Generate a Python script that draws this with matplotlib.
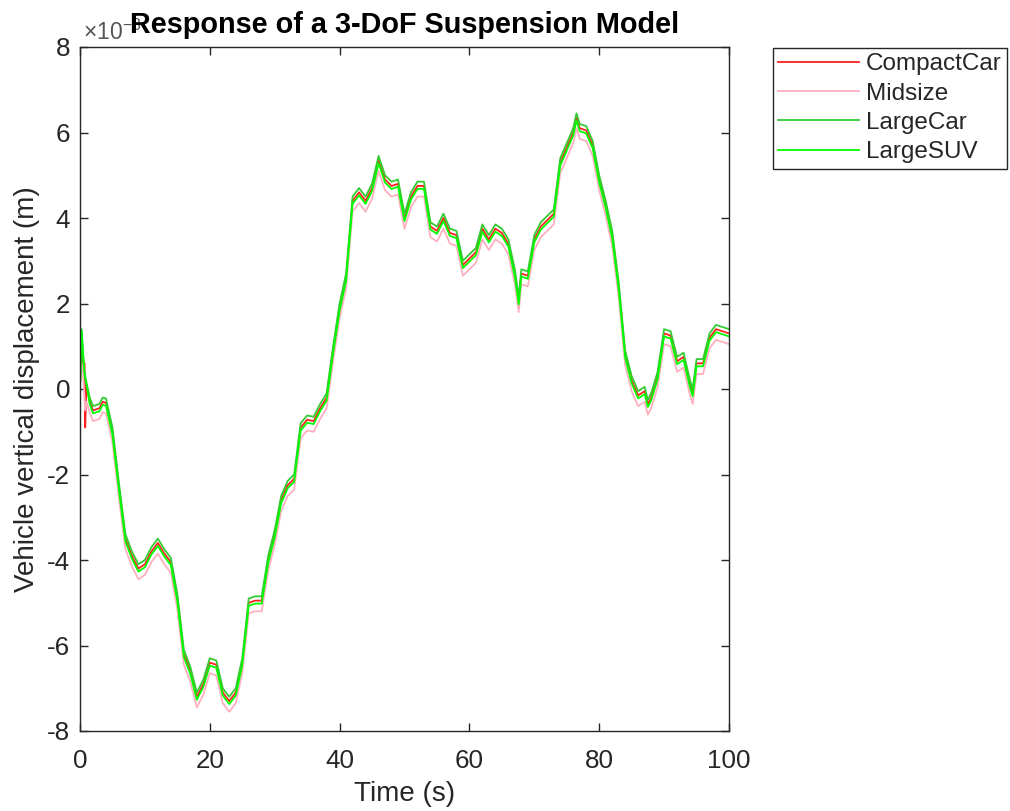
import matplotlib
matplotlib.use("Agg")
import matplotlib.pyplot as plt
from matplotlib.ticker import FuncFormatter

plt.rcParams['font.family'] = ['Liberation Sans', 'DejaVu Sans']
plt.rcParams['mathtext.fontset'] = 'custom'
plt.rcParams['mathtext.rm'] = 'Liberation Sans'
plt.rcParams['mathtext.it'] = 'Liberation Sans'
plt.rcParams['axes.unicode_minus'] = False

# Time (s)
time = [0, 0.25, 0.5, 0.7, 0.8, 1, 1.5,
        2, 3, 3.5, 4, 5, 6, 7, 8, 9, 10, 11, 12, 13, 14, 15, 16, 17, 18, 19, 20,
        21, 22, 23, 24, 25, 26, 27, 28, 29, 30, 31, 32, 33, 34, 35, 36, 37, 38, 39, 40,
        41, 42, 43, 44, 45, 46, 47, 48, 49, 50, 51, 52, 53, 54, 55, 56, 57, 58, 59, 60,
        61, 62, 63, 64, 65, 66, 67, 67.6, 68, 69, 70, 71, 72, 73, 74, 75, 76, 76.5, 77,
        78, 79, 80, 81, 82, 83, 84, 85, 86, 87, 87.5, 88, 89, 90, 91, 92, 93, 94, 94.4,
        95, 96, 97, 98, 99, 100]

# Vertical displacement, units of 1e-3 m
compact_car = [0.0, 1.3, 0.5, 0.6, -0.9, 0.1, -0.3,
               -0.5, -0.45, -0.3, -0.32, -1.0, -2.3, -3.5, -3.9, -4.2, -4.1, -3.8, -3.6, -3.85, -4.05, -4.9, -6.2, -6.6, -7.2, -6.9, -6.4,
               -6.45, -7.1, -7.3, -7.1, -6.4, -5.0, -4.95, -4.95, -4.0, -3.4, -2.6, -2.25, -2.1, -0.9, -0.72, -0.75, -0.45, -0.2, 0.9, 1.9,
               2.6, 4.4, 4.6, 4.4, 4.7, 5.35, 4.9, 4.75, 4.8, 4.0, 4.5, 4.75, 4.75, 3.8, 3.7, 4.0, 3.65, 3.6, 2.9, 3.05,
               3.2, 3.75, 3.5, 3.75, 3.65, 3.4, 2.7, 2.05, 2.7, 2.65, 3.5, 3.8, 3.95, 4.1, 5.3, 5.65, 6.0, 6.35, 6.1,
               6.05, 5.7, 4.9, 4.3, 3.6, 2.4, 0.8, 0.2, -0.15, -0.05, -0.35, -0.2, 0.3, 1.3, 1.25, 0.65, 0.75, 0.1, -0.1,
               0.6, 0.6, 1.2, 1.4, 1.35, 1.3]

midsize = [0.05, 0.6, 0.3, -0.2, -0.5, -0.3, -0.55,
           -0.75, -0.7, -0.55, -0.57, -1.25, -2.55, -3.75, -4.15, -4.45, -4.35, -4.05, -3.85, -4.1, -4.3, -5.15, -6.45, -6.85, -7.45, -7.15, -6.65,
           -6.7, -7.35, -7.55, -7.35, -6.65, -5.25, -5.2, -5.2, -4.25, -3.65, -2.85, -2.5, -2.35, -1.15, -0.97, -1.0, -0.7, -0.45, 0.65, 1.65,
           2.35, 4.15, 4.35, 4.15, 4.45, 5.1, 4.65, 4.5, 4.55, 3.75, 4.25, 4.5, 4.5, 3.55, 3.45, 3.75, 3.4, 3.35, 2.65, 2.8,
           2.95, 3.5, 3.25, 3.5, 3.4, 3.15, 2.45, 1.8, 2.45, 2.4, 3.25, 3.55, 3.7, 3.85, 5.05, 5.4, 5.75, 6.1, 5.85,
           5.8, 5.45, 4.65, 4.05, 3.35, 2.15, 0.55, -0.05, -0.4, -0.3, -0.6, -0.45, 0.05, 1.05, 1.0, 0.4, 0.5, -0.15, -0.35,
           0.35, 0.35, 0.95, 1.15, 1.1, 1.05]

large_car = [0.0, 1.4, 0.8, 0.4, 0.3, 0.15, -0.2,
             -0.4, -0.35, -0.2, -0.22, -0.9, -2.2, -3.4, -3.8, -4.1, -4.0, -3.7, -3.5, -3.75, -3.95, -4.8, -6.1, -6.5, -7.1, -6.8, -6.3,
             -6.35, -7.0, -7.2, -7.0, -6.3, -4.9, -4.85, -4.85, -3.9, -3.3, -2.5, -2.15, -2.0, -0.8, -0.62, -0.65, -0.35, -0.1, 1.0, 2.0,
             2.7, 4.5, 4.7, 4.5, 4.8, 5.45, 5.0, 4.85, 4.9, 4.1, 4.6, 4.85, 4.85, 3.9, 3.8, 4.1, 3.75, 3.7, 3.0, 3.15,
             3.3, 3.85, 3.6, 3.85, 3.75, 3.5, 2.8, 2.15, 2.8, 2.75, 3.6, 3.9, 4.05, 4.2, 5.4, 5.75, 6.1, 6.45, 6.2,
             6.15, 5.8, 5.0, 4.4, 3.7, 2.5, 0.9, 0.3, -0.05, 0.05, -0.25, -0.1, 0.4, 1.4, 1.35, 0.75, 0.85, 0.2, 0.0,
             0.7, 0.7, 1.3, 1.5, 1.45, 1.4]

large_suv = [0.0, 1.35, 0.7, 0.35, 0.25, 0.1, -0.35,
             -0.57, -0.52, -0.37, -0.39, -1.07, -2.37, -3.57, -3.97, -4.27, -4.17, -3.87, -3.67, -3.92, -4.12, -4.97, -6.27, -6.67, -7.27, -6.97, -6.47,
             -6.52, -7.17, -7.37, -7.17, -6.47, -5.07, -5.02, -5.02, -4.07, -3.47, -2.67, -2.32, -2.17, -0.97, -0.79, -0.82, -0.52, -0.27, 0.83, 1.83,
             2.53, 4.33, 4.53, 4.33, 4.63, 5.28, 4.83, 4.68, 4.73, 3.93, 4.43, 4.68, 4.68, 3.73, 3.63, 3.93, 3.58, 3.53, 2.83, 2.98,
             3.13, 3.68, 3.43, 3.68, 3.58, 3.33, 2.63, 1.98, 2.63, 2.58, 3.43, 3.73, 3.88, 4.03, 5.23, 5.58, 5.93, 6.28, 6.03,
             5.98, 5.63, 4.83, 4.23, 3.53, 2.33, 0.73, 0.13, -0.22, -0.12, -0.42, -0.27, 0.23, 1.23, 1.18, 0.58, 0.68, 0.03, -0.17,
             0.53, 0.53, 1.13, 1.33, 1.28, 1.23]

series_names = ["CompactCar", "Midsize", "LargeCar", "LargeSUV"]
series_values = [compact_car, midsize, large_car, large_suv]
series_colors = ["#ff2020", "#ffb0bf", "#33cc33", "#00ff00"]
scale = 1e-3

x_ticks = [0, 20, 40, 60, 80, 100]
y_ticks = [-8, -6, -4, -2, 0, 2, 4, 6, 8]

fig = plt.figure(figsize=(10.10, 8.11), dpi=100)
ax = fig.add_axes([80 / 1010, 1 - 731 / 811, 649 / 1010, 684 / 811])

for name, vals, col in zip(series_names, series_values, series_colors):
    ax.plot(time, [v * scale for v in vals], color=col, lw=1.3, label=name)

ax.set_xlim(0, 100)
ax.set_ylim(-8 * scale, 8 * scale)
ax.set_xticks(x_ticks)
ax.set_yticks([v * scale for v in y_ticks])
ax.yaxis.set_major_formatter(FuncFormatter(lambda v, p: f"{v / scale:g}"))

text_col = "#262626"
for s in ax.spines.values():
    s.set_color(text_col)
    s.set_linewidth(1.0)
ax.tick_params(direction='in', length=6, width=1.0, top=True, right=True,
               labelsize=18.7, colors=text_col)
ax.tick_params(axis='x', pad=13)
ax.tick_params(axis='y', pad=7)

# exponent label (MATLAB style)
ax.text(0.004, 1.0 + 7 / 684, r"$\times10^{-3}$", transform=ax.transAxes,
        ha='left', va='baseline', fontsize=16.5, color="#555555")

ax.set_xlabel("Time (s)", fontsize=20, color=text_col, labelpad=6)
ax.set_ylabel("Vehicle vertical displacement (m)", fontsize=20, color=text_col)
ax.yaxis.set_label_coords(-0.0616, 0.5)
ax.set_title("Response of a 3-DoF Suspension Model", fontsize=20.8, fontweight='bold',
             color='black', pad=10)

leg = ax.legend(loc='upper left', bbox_to_anchor=(1.068, 0.9985), fontsize=17.5,
                frameon=True, fancybox=False, framealpha=1, edgecolor=text_col,
                handlelength=3.3, handletextpad=0.3, labelspacing=0.3,
                borderpad=0.22, borderaxespad=0)
leg.get_frame().set_linewidth(1.0)
for t in leg.get_texts():
    t.set_color(text_col)

fig.savefig("out.png", dpi=100)
